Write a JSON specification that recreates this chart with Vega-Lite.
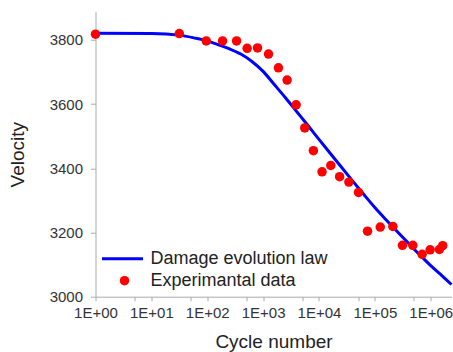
{
  "$schema": "https://vega.github.io/schema/vega-lite/v6.json",
  "width": 356,
  "height": 285,
  "autosize": {"type": "none"},
  "padding": {"left": 95.5, "top": 11.7, "right": 1.5, "bottom": 55.3},
  "background": "white",
  "config": {"view": {"stroke": null}, "font": "Liberation Sans"},
  "datasets": {
    "law": [
      {"N": 1, "V": 3821},
      {"N": 10, "V": 3820},
      {"N": 31.62, "V": 3815},
      {"N": 63.1, "V": 3805},
      {"N": 100, "V": 3797},
      {"N": 158.5, "V": 3785},
      {"N": 251.2, "V": 3772},
      {"N": 398.1, "V": 3756},
      {"N": 631, "V": 3733},
      {"N": 1000, "V": 3702},
      {"N": 1585, "V": 3661},
      {"N": 2512, "V": 3620},
      {"N": 3981, "V": 3577},
      {"N": 6310, "V": 3534},
      {"N": 10000, "V": 3490},
      {"N": 15850, "V": 3447},
      {"N": 25120, "V": 3404},
      {"N": 39810, "V": 3361},
      {"N": 63100, "V": 3319},
      {"N": 100000, "V": 3278},
      {"N": 158500, "V": 3240},
      {"N": 251200, "V": 3203},
      {"N": 398100, "V": 3167},
      {"N": 631000, "V": 3131},
      {"N": 1000000, "V": 3097},
      {"N": 1585000, "V": 3066},
      {"N": 2355000, "V": 3038}
    ],
    "exp": [
      {"N": 1, "V": 3818},
      {"N": 31.6, "V": 3820},
      {"N": 96, "V": 3797},
      {"N": 188, "V": 3797},
      {"N": 335, "V": 3797},
      {"N": 518, "V": 3774},
      {"N": 795, "V": 3775},
      {"N": 1250, "V": 3756},
      {"N": 1880, "V": 3713},
      {"N": 2690, "V": 3675},
      {"N": 3900, "V": 3598},
      {"N": 5560, "V": 3526},
      {"N": 7940, "V": 3455},
      {"N": 11350, "V": 3389},
      {"N": 16300, "V": 3409},
      {"N": 23400, "V": 3374},
      {"N": 34300, "V": 3357},
      {"N": 51000, "V": 3325},
      {"N": 74000, "V": 3204},
      {"N": 125000, "V": 3217},
      {"N": 210000, "V": 3219},
      {"N": 312000, "V": 3160},
      {"N": 478000, "V": 3160},
      {"N": 702000, "V": 3132},
      {"N": 977000, "V": 3146},
      {"N": 1430000, "V": 3147},
      {"N": 1640000, "V": 3159}
    ]
  },
  "layer": [
    {
      "data": {"name": "law"},
      "mark": {"type": "line", "strokeWidth": 3, "interpolate": "monotone"},
      "encoding": {
        "x": {
          "field": "N",
          "type": "quantitative",
          "scale": {"type": "log", "domain": [1, 2355000], "nice": false},
          "axis": {
            "values": [1, 5, 10, 50, 100, 500, 1000, 5000, 10000, 50000, 100000, 500000, 1000000],
            "labelExpr": "indexof([1,10,100,1000,10000,100000,1000000], datum.value) >= 0 ? '1E+0' + round(log(datum.value)/LN10) : ''",
            "title": "Cycle number",
            "titleFontSize": 19,
            "titleFontWeight": "normal",
            "titleColor": "#222",
            "titlePadding": 12,
            "labelFontSize": 15,
            "labelColor": "#333",
            "labelPadding": 5,
            "labelOverlap": false,
            "labelFlush": false,
            "domainColor": "#aaa",
            "tickColor": "#aaa",
            "tickSize": 4,
            "grid": false
          }
        },
        "y": {
          "field": "V",
          "type": "quantitative",
          "scale": {"domain": [3000, 3888], "nice": false, "zero": false},
          "axis": {
            "values": [3000, 3100, 3200, 3300, 3400, 3500, 3600, 3700, 3800],
            "format": "d",
            "labelExpr": "datum.value % 200 == 0 ? datum.label : ''",
            "title": "Velocity",
            "titleFontSize": 19,
            "titleFontWeight": "normal",
            "titleColor": "#222",
            "titlePadding": 22,
            "labelFontSize": 15,
            "labelColor": "#333",
            "labelPadding": 8,
            "domainColor": "#aaa",
            "tickColor": "#aaa",
            "tickSize": 5,
            "grid": false
          }
        },
        "stroke": {
          "datum": "Damage evolution law",
          "scale": {"range": ["#0000ff"]},
          "legend": {
            "title": null,
            "orient": "none",
            "legendX": 5,
            "legendY": 225,
            "symbolType": "stroke",
            "symbolSize": 1681,
            "symbolStrokeWidth": 3,
            "labelFontSize": 18,
            "labelColor": "#222",
            "labelOffset": 6,
            "labelLimit": 300,
            "padding": 0
          }
        }
      }
    },
    {
      "data": {"name": "exp"},
      "mark": {"type": "circle", "size": 90, "opacity": 1},
      "encoding": {
        "x": {"field": "N", "type": "quantitative"},
        "y": {"field": "V", "type": "quantitative"},
        "fill": {
          "datum": "Experimantal data",
          "scale": {"range": ["#ff0000"]},
          "legend": {
            "title": null,
            "orient": "none",
            "legendX": 20,
            "legendY": 260,
            "symbolType": "circle",
            "symbolSize": 90,
            "symbolOpacity": 1,
            "labelFontSize": 18,
            "labelColor": "#222",
            "labelOffset": 17,
            "labelLimit": 300,
            "padding": 0
          }
        }
      }
    }
  ]
}
